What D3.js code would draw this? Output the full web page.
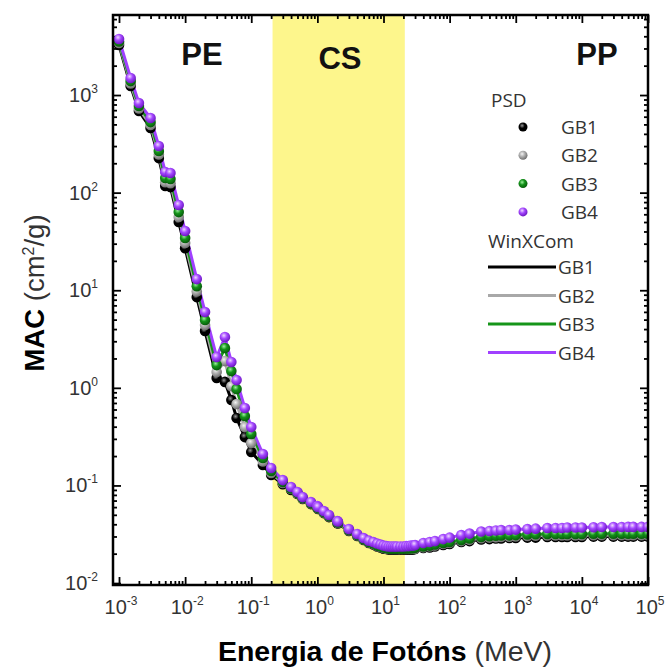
<!DOCTYPE html>
<html>
<head>
<meta charset="utf-8">
<script src="https://cdn.jsdelivr.net/npm/d3@7"></script>
<style>
  body { margin: 0; background: #fff; }
  text { font-family: "Liberation Sans", Arial, sans-serif; }
  .legend text { font-family: "Open Sans", sans-serif; }
</style>
</head>
<body>
<div id="chart"></div>
<script>
// photon energies (MeV)
var energy = [0.001, 0.0015, 0.002, 0.003, 0.004, 0.005, 0.006, 0.008, 0.01,
  0.015, 0.02, 0.03, 0.04, 0.05, 0.06, 0.08, 0.1,
  0.15, 0.2, 0.3, 0.4, 0.5, 0.6, 0.8, 1,
  1.022, 1.25, 1.5, 2, 2.044,
  3, 4, 5, 6, 7, 8, 9, 10, 11, 12, 13, 14, 15, 16,
  18, 20, 22, 24, 26, 28, 30,
  40, 50, 60, 80, 100,
  150, 200, 300, 400, 500, 600, 800, 1000,
  1500, 2000, 3000, 4000, 5000, 6000, 8000, 10000,
  15000, 20000, 30000, 40000, 50000, 60000, 80000, 100000];

// MAC (cm2/g) for each glass
var gb1 = [3252, 1236, 686, 459, 226, 117, 114, 50.0, 27.0,
  8.51, 3.82, 1.26, 1.15, 0.750, 0.491, 0.313, 0.220,
  0.162, 0.128, 0.103, 0.0897, 0.0817, 0.0727, 0.0644, 0.0586,
  0.0573, 0.0521, 0.0474, 0.0412, 0.0407,
  0.0341, 0.0303, 0.0276, 0.0257, 0.0248, 0.0237, 0.0231, 0.0225, 0.0223, 0.0220, 0.0220, 0.0220, 0.0220, 0.0220,
  0.0220, 0.0220, 0.0220, 0.0220, 0.0220, 0.0220, 0.0223,
  0.0229, 0.0231, 0.0237, 0.0245, 0.0251,
  0.0263, 0.0269, 0.0279, 0.0282, 0.0286, 0.0286, 0.0289, 0.0289,
  0.0292, 0.0292, 0.0296, 0.0296, 0.0296, 0.0296, 0.0296, 0.0296,
  0.0299, 0.0299, 0.0299, 0.0299, 0.0299, 0.0299, 0.0299, 0.0299];

var gb2 = [3412, 1312, 728, 493, 246, 128, 125, 56.2, 30.5,
  9.70, 4.40, 1.45, 1.88, 1.04, 0.682, 0.396, 0.272,
  0.176, 0.134, 0.106, 0.0918, 0.0826, 0.0735, 0.0653, 0.0594,
  0.0580, 0.0527, 0.0480, 0.0417, 0.0412,
  0.0345, 0.0307, 0.0279, 0.0260, 0.0251, 0.0239, 0.0234, 0.0229, 0.0225, 0.0223, 0.0223, 0.0223, 0.0223, 0.0223,
  0.0223, 0.0223, 0.0224, 0.0224, 0.0224, 0.0224, 0.0225,
  0.0232, 0.0237, 0.0242, 0.0251, 0.0257,
  0.0269, 0.0277, 0.0288, 0.0292, 0.0294, 0.0296, 0.0298, 0.0300,
  0.0303, 0.0305, 0.0307, 0.0307, 0.0307, 0.0307, 0.0307, 0.0307,
  0.0309, 0.0309, 0.0309, 0.0309, 0.0309, 0.0309, 0.0309, 0.0309];

var gb3 = [3532, 1390, 771, 528, 267, 141, 138, 63.2, 34.3,
  11.0, 4.95, 1.71, 2.56, 1.49, 0.973, 0.514, 0.337,
  0.191, 0.141, 0.1084, 0.0929, 0.0836, 0.0743, 0.0660, 0.0601,
  0.0586, 0.0533, 0.0485, 0.0422, 0.0417,
  0.0349, 0.0310, 0.0281, 0.0263, 0.0254, 0.0242, 0.0237, 0.0231, 0.0229, 0.0225, 0.0225, 0.0225, 0.0225, 0.0225,
  0.0225, 0.0225, 0.0226, 0.0226, 0.0227, 0.0227, 0.0230,
  0.0237, 0.0242, 0.0248, 0.0257, 0.0263,
  0.0276, 0.0286, 0.0297, 0.0302, 0.0305, 0.0307, 0.0308, 0.0310,
  0.0314, 0.0316, 0.0318, 0.0318, 0.0318, 0.0318, 0.0318, 0.0318,
  0.0320, 0.0320, 0.0320, 0.0320, 0.0320, 0.0320, 0.0320, 0.0320];

var gb4 = [3750, 1493, 828, 581, 300, 163, 159, 74.6, 40.4,
  13.0, 5.98, 2.07, 3.31, 1.84, 1.20, 0.621, 0.396,
  0.210, 0.151, 0.1135, 0.0964, 0.0855, 0.0760, 0.0676, 0.0615,
  0.0601, 0.0547, 0.0498, 0.0432, 0.0428,
  0.0357, 0.0318, 0.0289, 0.0272, 0.0263, 0.0254, 0.0248, 0.0242, 0.0239, 0.0237, 0.0237, 0.0237, 0.0237, 0.0237,
  0.0237, 0.0237, 0.0239, 0.0239, 0.0242, 0.0242, 0.0245,
  0.0257, 0.0263, 0.0269, 0.0282, 0.0292,
  0.0310, 0.0321, 0.0337, 0.0341, 0.0345, 0.0349, 0.0349, 0.0353,
  0.0357, 0.0361, 0.0366, 0.0366, 0.0366, 0.0371, 0.0371, 0.0371,
  0.0373, 0.0375, 0.0375, 0.0375, 0.0376, 0.0376, 0.0376, 0.0376];

var seriesNames = ["GB1", "GB2", "GB3", "GB4"];
var seriesColors = ["#000000", "#a8a8a8", "#16951a", "#a040ff"];
var xTickExp = [-3, -2, -1, 0, 1, 2, 3, 4, 5];
var yTickExp = [-2, -1, 0, 1, 2, 3];
var csBand = [0.21, 21];
var regionNames = ["PE", "CS", "PP"];

var series = [gb1, gb2, gb3, gb4].map(function(v, i){
  return {name: seriesNames[i], color: seriesColors[i],
    points: energy.map(function(e, j){ return {e: e, v: v[j]}; })};
});

var width = 670, height = 668;
var plot = {left: 113, right: 648, top: 15, bottom: 585};

var svg = d3.select("#chart").append("svg")
  .attr("width", width)
  .attr("height", height);

var x = d3.scaleLog()
  .domain([Math.pow(10, -3.0907), 1e5])
  .range([plot.left, plot.right]);

var y = d3.scaleLog()
  .domain([Math.pow(10, -2.02), Math.pow(10, 3.82)])
  .range([plot.bottom, plot.top]);

// gradients to give the markers a shaded ball look
var defs = svg.append("defs");
var shade = [["#9a9a9a", "#000000", "#000000"], ["#f4f4f4", "#b0b0b0", "#6e6e6e"],
             ["#9cf09c", "#14931a", "#075a0a"], ["#f0d8ff", "#a448ff", "#6c16c0"]];
series.forEach(function(s, i){
  var g = defs.append("radialGradient").attr("id", "ball" + i)
    .attr("cx", "40%").attr("cy", "35%").attr("r", "65%");
  g.append("stop").attr("offset", "0%").attr("stop-color", shade[i][0]);
  g.append("stop").attr("offset", "45%").attr("stop-color", shade[i][1]);
  g.append("stop").attr("offset", "100%").attr("stop-color", shade[i][2]);
});
defs.append("clipPath").attr("id", "clip").append("rect")
  .attr("x", plot.left).attr("y", plot.top)
  .attr("width", plot.right - plot.left).attr("height", plot.bottom - plot.top);

// compton band
svg.append("rect")
  .attr("x", x(csBand[0]))
  .attr("y", plot.top)
  .attr("width", x(csBand[1]) - x(csBand[0]))
  .attr("height", plot.bottom - plot.top)
  .attr("fill", "#fdf68c");

// ticks on all four sides, pointing in
var xMinor = [], yMinor = [];
xTickExp.forEach(function(k){ for (var m = 2; m < 10; m++) if (k < 5) xMinor.push(m * Math.pow(10, k)); });
yTickExp.forEach(function(k){ for (var m = 2; m < 10; m++) if (m * Math.pow(10, k) < y.domain()[1]) yMinor.push(m * Math.pow(10, k)); });
var xMajor = xTickExp.map(function(k){ return Math.pow(10, k); });
var yMajor = yTickExp.map(function(k){ return Math.pow(10, k); });

function tickAxis(axisFn, scale, vals, size, tr){
  svg.append("g")
    .attr("transform", tr)
    .call(axisFn(scale).tickValues(vals).tickSize(size).tickFormat(""))
    .call(function(g){ g.select(".domain").remove(); })
    .selectAll("line").attr("stroke", "#000").attr("stroke-width", 1.8);
}
tickAxis(d3.axisBottom, x, xMajor, -8, "translate(0," + plot.bottom + ")");
tickAxis(d3.axisBottom, x, xMinor, -4, "translate(0," + plot.bottom + ")");
tickAxis(d3.axisTop, x, xMajor, -8, "translate(0," + plot.top + ")");
tickAxis(d3.axisTop, x, xMinor, -4, "translate(0," + plot.top + ")");
tickAxis(d3.axisLeft, y, yMajor, -8, "translate(" + plot.left + ",0)");
tickAxis(d3.axisLeft, y, yMinor, -4, "translate(" + plot.left + ",0)");
tickAxis(d3.axisRight, y, yMajor, -8, "translate(" + plot.right + ",0)");
tickAxis(d3.axisRight, y, yMinor, -4, "translate(" + plot.right + ",0)");

// tick labels 10^k
xTickExp.forEach(function(k){
  var t = svg.append("text")
    .attr("x", x(Math.pow(10, k)) + 2)
    .attr("y", 614)
    .attr("text-anchor", "middle")
    .attr("fill", "#333")
    .style("font-size", "20px");
  t.append("tspan").text("10");
  t.append("tspan").attr("dy", -9).style("font-size", "12px").text(k);
});
yTickExp.forEach(function(k){
  var t = svg.append("text")
    .attr("x", 98)
    .attr("y", y(Math.pow(10, k)) + 7)
    .attr("text-anchor", "end")
    .attr("fill", "#333")
    .style("font-size", "20px");
  t.append("tspan").text("10");
  t.append("tspan").attr("dy", -9).style("font-size", "12px").text(k);
});

// data
var body = svg.append("g").attr("clip-path", "url(#clip)");
var line = d3.line()
  .x(function(d){ return x(d.e); })
  .y(function(d){ return y(d.v); });

series.forEach(function(s){
  body.append("path")
    .datum(s.points)
    .attr("fill", "none")
    .attr("stroke", s.color)
    .attr("stroke-width", 3)
    .attr("d", line);
});
series.forEach(function(s, i){
  body.append("g")
    .selectAll("circle")
    .data(s.points)
    .enter().append("circle")
    .attr("cx", function(d){ return x(d.e); })
    .attr("cy", function(d){ return y(d.v); })
    .attr("r", 5.3)
    .attr("fill", "url(#ball" + i + ")");
});

// frame
svg.append("rect")
  .attr("x", plot.left).attr("y", plot.top)
  .attr("width", plot.right - plot.left)
  .attr("height", plot.bottom - plot.top)
  .attr("fill", "none")
  .attr("stroke", "#000")
  .attr("stroke-width", 2.5);

// region labels
var regionX = [202, 340, 597], regionY = [65, 69, 65];
regionNames.forEach(function(r, i){
  svg.append("text")
    .attr("x", regionX[i]).attr("y", regionY[i])
    .attr("text-anchor", "middle")
    .style("font-size", "31px").style("font-weight", "bold")
    .attr("fill", "#111")
    .text(r);
});

// legend
var leg = svg.append("g").attr("class", "legend")
  .style("font-size", "19px").attr("fill", "#333");
leg.append("text").attr("x", 491).attr("y", 107).text("PSD");
series.forEach(function(s, i){
  var yy = 127 + i * 28.3;
  leg.append("circle").attr("cx", 523).attr("cy", yy).attr("r", 4.5)
    .attr("fill", "url(#ball" + i + ")");
  leg.append("text").attr("x", 561).attr("y", yy + 7).text(s.name);
});
leg.append("text").attr("x", 488).attr("y", 248).text("WinXCom");
series.forEach(function(s, i){
  var yy = 267 + i * 28.5;
  leg.append("line").attr("x1", 488).attr("x2", 556).attr("y1", yy).attr("y2", yy)
    .attr("stroke", s.color).attr("stroke-width", 3);
  leg.append("text").attr("x", 558).attr("y", yy + 7).text(s.name);
});

// axis titles
var xt = svg.append("text")
  .attr("x", 385).attr("y", 661)
  .attr("text-anchor", "middle")
  .style("font-size", "28.5px")
  .attr("fill", "#000");
xt.append("tspan").style("font-weight", "bold").text("Energia de Fotóns");
xt.append("tspan").attr("fill", "#333").text(" (MeV)");

var yt = svg.append("text")
  .attr("transform", "translate(44,293) rotate(-90)")
  .attr("text-anchor", "middle")
  .style("font-size", "27.5px")
  .attr("fill", "#000");
yt.append("tspan").style("font-weight", "bold").text("MAC");
yt.append("tspan").attr("fill", "#333").text(" (cm");
yt.append("tspan").attr("dy", -10).style("font-size", "16px").attr("fill", "#333").text("2");
yt.append("tspan").attr("dy", 10).attr("fill", "#333").text("/g)");
</script>
</body>
</html>
